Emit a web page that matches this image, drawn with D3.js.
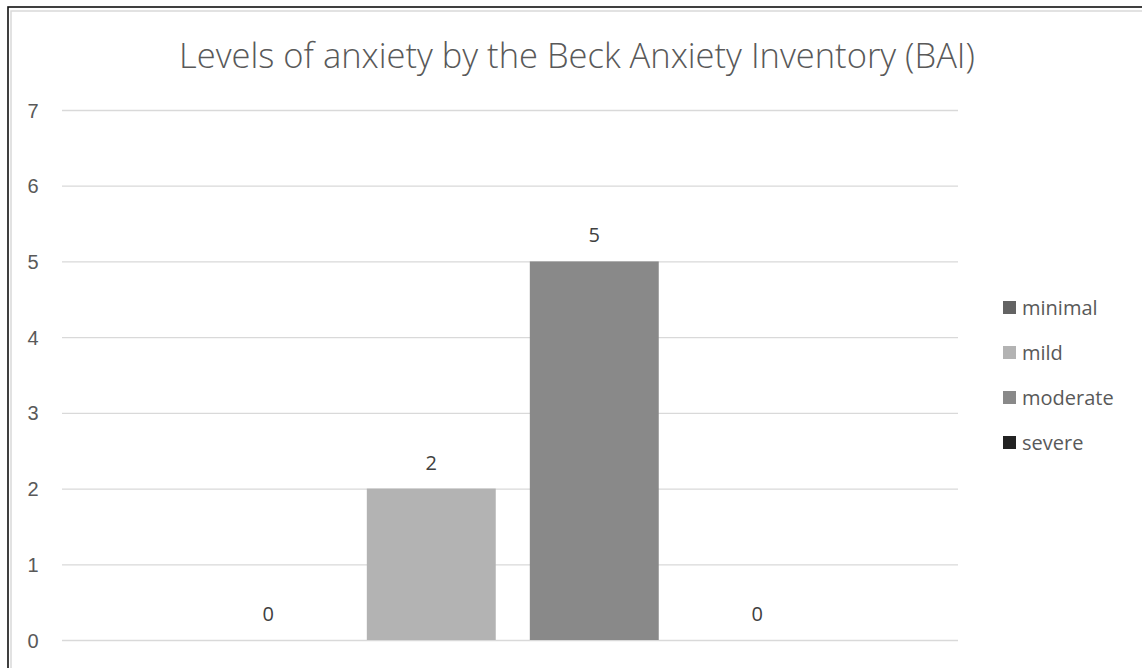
<!DOCTYPE html>
<html>
<head>
<meta charset="utf-8">
<script src="https://cdn.jsdelivr.net/npm/d3@7"></script>
<style>
  html, body { margin: 0; padding: 0; background: #fff; }
  svg { display: block; font-family: "Open Sans", "DejaVu Sans", sans-serif; }
</style>
</head>
<body>
<svg id="chart" width="1142" height="668"></svg>
<script>
// Chart data
const title = "Levels of anxiety by the Beck Anxiety Inventory (BAI)";
const categories = [""];
const series = ["minimal", "mild", "moderate", "severe"];
const values = [0, 2, 5, 0];
const seriesColors = ["#636363", "#b3b3b3", "#898989", "#222222"];
const yTicks = [0, 1, 2, 3, 4, 5, 6, 7];

const svg = d3.select("#chart");

// Chart frame
svg.append("rect")
  .attr("x", 11).attr("y", 11).attr("width", 1160).attr("height", 700)
  .attr("fill", "none").attr("stroke", "#d9d9d9").attr("stroke-width", 1.5);
svg.append("rect")
  .attr("x", 8).attr("y", 7).attr("width", 1160).attr("height", 700)
  .attr("fill", "none").attr("stroke", "#111").attr("stroke-width", 1.6);

const plot = { left: 62, right: 958, top: 110, bottom: 640 };

const y = d3.scaleLinear().domain([0, 7]).range([plot.bottom, plot.top]);

const x0 = d3.scaleBand().domain(categories)
  .range([plot.left, plot.right]).paddingInner(0).paddingOuter(0.225).align(0.51);
const x1 = d3.scaleBand().domain(series)
  .range([0, x0.bandwidth()]).paddingInner(0.209).paddingOuter(0);

// Gridlines and y tick labels
const yAxis = d3.axisLeft(y).tickValues(yTicks)
  .tickSize(-(plot.right - plot.left)).tickPadding(0).tickFormat(d3.format("d"));
const gy = svg.append("g").attr("transform", `translate(${plot.left},0)`).call(yAxis);
gy.select(".domain").remove();
gy.selectAll(".tick line").attr("stroke", "#d9d9d9").attr("stroke-width", 1.3);
gy.selectAll(".tick text")
  .attr("x", 33 - plot.left).attr("text-anchor", "middle")
  .attr("fill", "#595959").style("font-size", "20px").attr("dy", "0.35em");

// Bars
const groups = svg.append("g").selectAll("g")
  .data(categories).join("g")
  .attr("transform", d => `translate(${x0(d)},0)`);

const rows = series.map((s, i) => ({ s, v: values[i], c: seriesColors[i] }));

groups.selectAll("rect")
  .data(rows).join("rect")
  .attr("x", d => x1(d.s))
  .attr("width", x1.bandwidth())
  .attr("y", d => y(d.v))
  .attr("height", d => y(0) - y(d.v))
  .attr("fill", d => d.c);

// Value labels
groups.selectAll("text.val")
  .data(rows).join("text")
  .attr("class", "val")
  .attr("x", d => x1(d.s) + x1.bandwidth() / 2)
  .attr("y", d => y(d.v) - 19)
  .attr("text-anchor", "middle")
  .attr("fill", "#404040")
  .style("font-size", "20px")
  .text(d => d.v);

// Title
svg.append("text")
  .attr("x", 577).attr("y", 68)
  .attr("text-anchor", "middle")
  .attr("fill", "#595959")
  .style("font-size", "34.5px")
  .style("font-weight", "300")
  .text(title);

// Legend
const legend = svg.append("g").selectAll("g")
  .data(rows).join("g")
  .attr("transform", (d, i) => `translate(1003,${308 + i * 45})`);
legend.append("rect")
  .attr("x", 0).attr("y", -7).attr("width", 13).attr("height", 13)
  .attr("fill", d => d.c);
legend.append("text")
  .attr("x", 19).attr("y", 0).attr("dy", "0.35em")
  .attr("fill", "#595959").style("font-size", "20px")
  .text(d => d.s);
</script>
</body>
</html>
